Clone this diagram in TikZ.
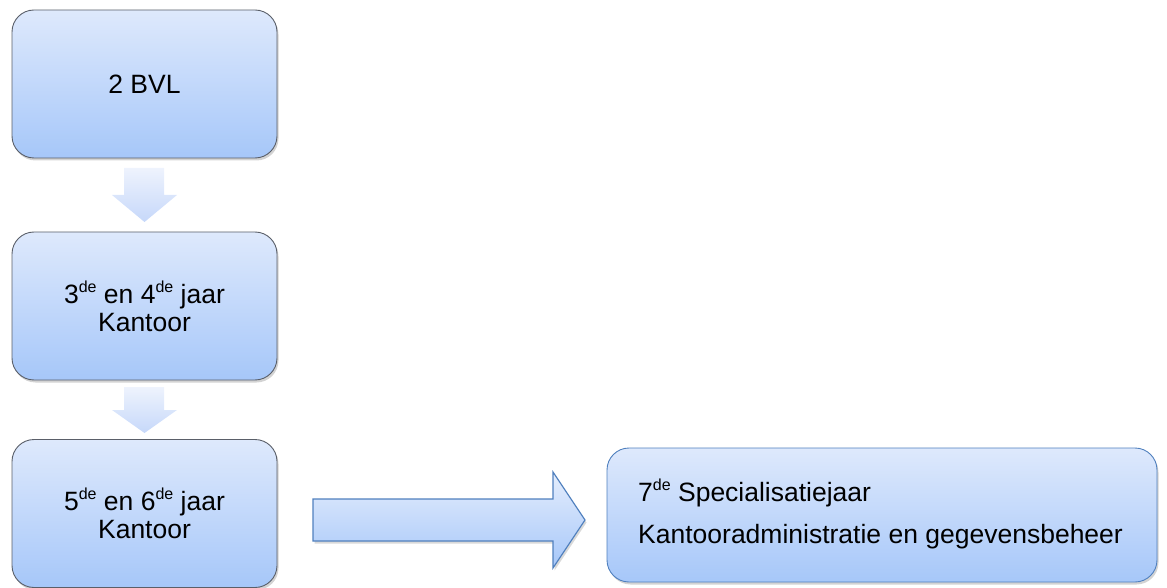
\documentclass[tikz,border=0pt]{standalone}
\usepackage{fontspec}
\setmainfont{Liberation Sans}
\usetikzlibrary{shadows}
\definecolor{boxtop}{RGB}{222,233,252}
\definecolor{boxbot}{RGB}{166,199,249}
\definecolor{grayedge}{RGB}{90,95,105}
\definecolor{blueedge}{RGB}{80,128,190}
\definecolor{arrtop}{RGB}{238,243,253}
\definecolor{arrbot}{RGB}{198,216,250}
\newcommand{\sups}[1]{\raisebox{0.42em}{\fontsize{16}{16}\selectfont #1}}
\begin{document}
\begin{tikzpicture}[x=1pt,y=-1pt,
  box/.style={draw=grayedge, line width=0.9pt, rounded corners=22pt, top color=boxtop, bottom color=boxbot,
    drop shadow={opacity=0.35, shadow xshift=1.5pt, shadow yshift=-2.5pt},
    minimum width=265pt, minimum height=148pt, align=center, inner sep=0pt,
    font=\fontsize{26.5}{28}\selectfont},
  bluebox/.style={box, draw=blueedge, minimum width=550pt, minimum height=134pt},
  downarrow/.style={top color=arrtop, bottom color=arrbot, draw=none},
  rightarrow/.style={top color=boxtop!80!white, bottom color=boxbot, draw=blueedge, line width=1.2pt,
    drop shadow={opacity=0.3, shadow xshift=1.5pt, shadow yshift=-2.5pt}}
]
\useasboundingbox (0,0) rectangle (1167,588);
\node[box] (b1) at (144.5,84) {2 BVL};
\node[box] (b2) at (144.5,306) {3\sups{de} en 4\sups{de} jaar\\Kantoor};
\node[box] (b3) at (144.5,513.5) {5\sups{de} en 6\sups{de} jaar\\Kantoor};
\node[bluebox] (b4) at (882,515) {};
\node[anchor=west, align=left, inner sep=0pt, font=\fontsize{26.5}{42}\selectfont] (t4) at (638,514)
  {7\sups{de} Specialisatiejaar\\Kantooradministratie en gegevensbeheer};
% down arrows
\path[downarrow] (124,168) -- (164,168) -- (164,195) -- (177,195) -- (144.5,222) -- (112,195) -- (124,195) -- cycle;
\path[downarrow] (124,387) -- (164,387) -- (164,410) -- (177,410) -- (144.5,433) -- (112,410) -- (124,410) -- cycle;
% right arrow
\path[rightarrow] (313,499) -- (553,499) -- (553,472) -- (585,520) -- (553,568) -- (553,541) -- (313,541) -- cycle;
\end{tikzpicture}
\end{document}
